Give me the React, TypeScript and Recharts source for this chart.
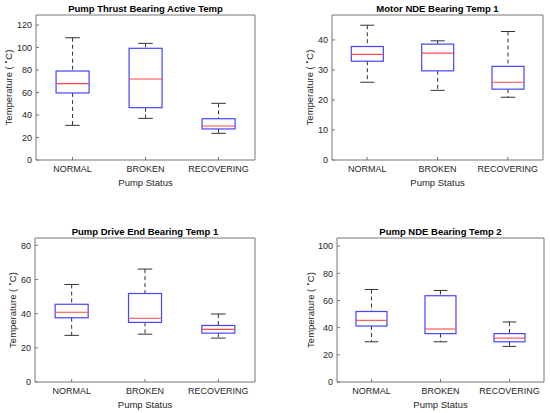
import { ComposedChart, Bar, Line, XAxis, YAxis } from 'recharts'

const categories = ['NORMAL', 'BROKEN', 'RECOVERING']

// Pump Thrust Bearing Active Temp
const thrustLow = [30.8, 37, 23.7]
const thrustQ1 = [59.6, 46.5, 27.6]
const thrustMed = [67.9, 72, 30.2]
const thrustQ3 = [79.1, 99.3, 36.7]
const thrustHigh = [108.7, 103.7, 50.4]
const thrustTicks = [0, 20, 40, 60, 80, 100, 120]

// Motor NDE Bearing Temp 1
const motorLow = [25.9, 23.2, 20.9]
const motorQ1 = [32.9, 29.7, 23.6]
const motorMed = [35.2, 35.6, 25.9]
const motorQ3 = [37.8, 38.6, 31.2]
const motorHigh = [44.9, 39.7, 42.8]
const motorTicks = [0, 10, 20, 30, 40]

// Pump Drive End Bearing Temp 1
const driveLow = [27.3, 28, 25.7]
const driveQ1 = [37.6, 34.9, 28.6]
const driveMed = [40.8, 37.3, 30.8]
const driveQ3 = [45.5, 51.8, 33.1]
const driveHigh = [57.1, 66.1, 39.8]
const driveTicks = [0, 20, 40, 60, 80]

// Pump NDE Bearing Temp 2
const ndeLow = [29.6, 29.6, 26.2]
const ndeQ1 = [41.2, 35.6, 29.6]
const ndeMed = [45.4, 39, 32.3]
const ndeQ3 = [51.9, 63.5, 35.6]
const ndeHigh = [68.1, 67.4, 44.2]
const ndeTicks = [0, 20, 40, 60, 80, 100]

const PAD_L = 36
const PAD_T = 22
const PAD_B = 36
const PAD_R = 4
const FONT = '"Liberation Sans", Arial, sans-serif'
const TEXT = '#262626'
const AXIS = '#777'

const BoxShape = (props: any) => {
  const { x, y, width, height, payload } = props
  const top = Math.min(y, y + height)
  const bot = Math.max(y, y + height)
  const [lo, hi] = payload.range
  const py = (v: number) => bot - ((v - lo) / (hi - lo)) * (bot - top)
  const cx = x + width / 2
  const cap = width * 0.22
  const yq1 = py(payload.q1)
  const yq3 = py(payload.q3)
  const ym = py(payload.med)
  return (
    <g>
      <line x1={cx} x2={cx} y1={top} y2={yq3} stroke="#333" strokeWidth={1} strokeDasharray="4 3" />
      <line x1={cx} x2={cx} y1={yq1} y2={bot} stroke="#333" strokeWidth={1} strokeDasharray="4 3" />
      <line x1={cx - cap} x2={cx + cap} y1={top} y2={top} stroke="#333" strokeWidth={1} />
      <line x1={cx - cap} x2={cx + cap} y1={bot} y2={bot} stroke="#333" strokeWidth={1} />
      <rect x={x} y={yq3} width={width} height={yq1 - yq3} fill="none" stroke="#4545ff" strokeWidth={1.2} />
      <line x1={x} x2={x + width} y1={ym} y2={ym} stroke="#ff4848" strokeWidth={1.1} />
    </g>
  )
}

interface BoxChartProps {
  title: string
  low: number[]
  q1: number[]
  med: number[]
  q3: number[]
  high: number[]
  ticks: number[]
  yMax: number
  plotX: number
  plotY: number
  plotW: number
  plotH: number
  labelGap: number
}

function BoxChart({ title, low, q1, med, q3, high, ticks, yMax, plotX, plotY, plotW, plotH, labelGap }: BoxChartProps) {
  const data = categories.map((name, i) => ({
    name,
    range: [low[i], high[i]],
    q1: q1[i],
    med: med[i],
    q3: q3[i],
  }))
  const w = plotW + PAD_L + PAD_R
  const h = plotH + PAD_T + PAD_B
  const tickStyle = { fontFamily: FONT, fontSize: 9, fill: TEXT }

  return (
    <div style={{ position: 'absolute', left: plotX - PAD_L, top: plotY - PAD_T, width: w, height: h }}>
      <ComposedChart
        width={w}
        height={h}
        data={data}
        margin={{ top: PAD_T - 1, right: PAD_R - 1, bottom: 0, left: 0 }}
        barCategoryGap="27.5%"
      >
        <XAxis
          dataKey="name"
          height={PAD_B}
          tick={tickStyle}
          tickSize={-3}
          tickMargin={9}
          stroke={AXIS}
          interval={0}
          label={() => (
            <text x={PAD_L + plotW / 2} y={PAD_T + plotH + 26} textAnchor="middle" fontFamily={FONT} fontSize={9.5} fill={TEXT}>
              Pump Status
            </text>
          )}
        />
        <XAxis xAxisId="top" dataKey="name" orientation="top" height={1} tick={false} tickSize={-3} stroke={AXIS} />
        <YAxis
          width={PAD_L}
          domain={[0, yMax]}
          ticks={ticks}
          allowDataOverflow
          tick={tickStyle}
          tickSize={-3}
          tickMargin={7}
          stroke={AXIS}
          label={() => {
            const lx = PAD_L - labelGap
            const ly = PAD_T + plotH / 2
            return (
              <text
                x={lx}
                y={ly}
                transform={`rotate(-90 ${lx} ${ly})`}
                textAnchor="middle"
                dominantBaseline="central"
                fontFamily={FONT}
                fontSize={9.5}
                fill={TEXT}
              >
                <tspan>Temperature ( </tspan>
                <tspan dy={-3} fontSize={6}>∘</tspan>
                <tspan dy={3}>C)</tspan>
              </text>
            )
          }}
        />
        <YAxis
          yAxisId="right"
          orientation="right"
          width={1}
          domain={[0, yMax]}
          ticks={ticks}
          allowDataOverflow
          tick={false}
          tickSize={-3}
          stroke={AXIS}
        />
        <Bar dataKey="range" shape={BoxShape} isAnimationActive={false} />
        <Line
          xAxisId="top"
          yAxisId="right"
          dataKey="med"
          stroke="none"
          dot={false}
          activeDot={false}
          isAnimationActive={false}
        />
      </ComposedChart>
      <div
        style={{
          position: 'absolute',
          left: PAD_L,
          top: PAD_T - 12,
          width: plotW,
          textAlign: 'center',
          fontFamily: FONT,
          fontSize: 9.5,
          fontWeight: 'bold',
          color: '#000',
          lineHeight: '11px',
        }}
      >
        {title}
      </div>
    </div>
  )
}

export default function App() {
  return (
    <div style={{ position: 'absolute', left: 0, top: 0, width: 550, height: 413, background: '#fff', overflow: 'hidden' }}>
      <BoxChart
        title="Pump Thrust Bearing Active Temp"
        low={thrustLow} q1={thrustQ1} med={thrustMed} q3={thrustQ3} high={thrustHigh}
        ticks={thrustTicks} yMax={128.9}
        plotX={36} plotY={15} plotW={219} plotH={145} labelGap={28}
      />
      <BoxChart
        title="Motor NDE Bearing Temp 1"
        low={motorLow} q1={motorQ1} med={motorMed} q3={motorQ3} high={motorHigh}
        ticks={motorTicks} yMax={48.3}
        plotX={332} plotY={15} plotW={211} plotH={145} labelGap={23}
      />
      <BoxChart
        title="Pump Drive End Bearing Temp 1"
        low={driveLow} q1={driveQ1} med={driveMed} q3={driveQ3} high={driveHigh}
        ticks={driveTicks} yMax={84.3}
        plotX={35} plotY={238} plotW={220} plotH={144} labelGap={23}
      />
      <BoxChart
        title="Pump NDE Bearing Temp 2"
        low={ndeLow} q1={ndeQ1} med={ndeMed} q3={ndeQ3} high={ndeHigh}
        ticks={ndeTicks} yMax={106}
        plotX={337} plotY={238} plotW={207} plotH={144} labelGap={27}
      />
    </div>
  )
}
